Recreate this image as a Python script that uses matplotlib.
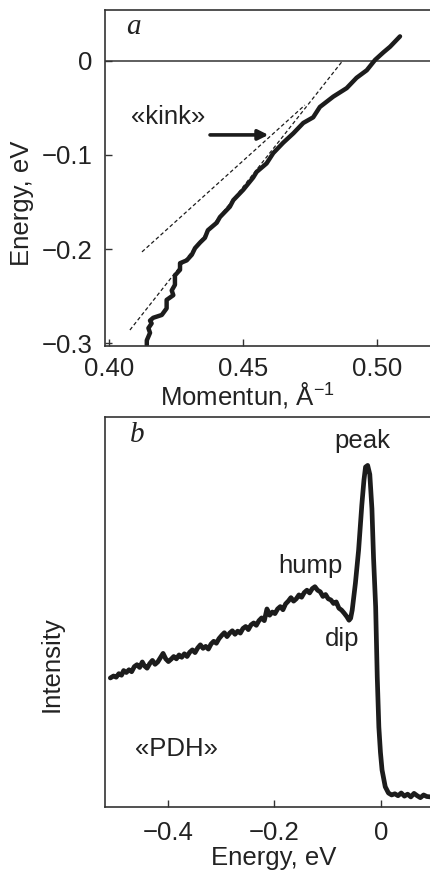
import numpy as np
import matplotlib
matplotlib.use('Agg')
import matplotlib.pyplot as plt

plt.rcParams['font.family'] = ['Liberation Sans', 'DejaVu Sans']
plt.rcParams['mathtext.fontset'] = 'custom'
plt.rcParams['mathtext.rm'] = 'Liberation Sans'
plt.rcParams['mathtext.it'] = 'Liberation Sans:italic'

# panel a: dispersion (momentum in 1/A, energy in eV)
mom_a = [0.4141, 0.4141, 0.4153, 0.4147, 0.4159, 0.4153, 0.4165, 0.4197, 0.4215, 0.4215,
         0.4240, 0.4234, 0.4246, 0.4246, 0.4265, 0.4265, 0.4290, 0.4309, 0.4321, 0.4340,
         0.4358, 0.4369, 0.4402, 0.4414, 0.4451, 0.4464, 0.4501, 0.4538, 0.4551, 0.4588,
         0.4613, 0.4650, 0.4688, 0.4725, 0.4762, 0.4787, 0.4837, 0.4887, 0.4924, 0.4962,
         0.4993, 0.5024, 0.5049, 0.5086]
energy_a = [-0.302, -0.297, -0.289, -0.284, -0.279, -0.276, -0.273, -0.270, -0.263, -0.254,
            -0.249, -0.244, -0.238, -0.228, -0.222, -0.215, -0.212, -0.206, -0.199, -0.193,
            -0.188, -0.180, -0.172, -0.166, -0.155, -0.148, -0.137, -0.124, -0.118, -0.109,
            -0.098, -0.087, -0.077, -0.066, -0.060, -0.049, -0.038, -0.029, -0.018, -0.010,
            0.001, 0.009, 0.015, 0.026]

# dashed guide lines (end points)
steep_mom = [0.4078, 0.4869]
steep_e = [-0.286, -0.001]
shallow_mom = [0.4123, 0.4731]
shallow_e = [-0.203, -0.047]

xticks_a = [0.40, 0.45, 0.50]
xticklabels_a = ['0.40', '0.45', '0.50']
yticks_a = [0, -0.1, -0.2, -0.3]
yticklabels_a = ['0', '\u22120.1', '\u22120.2', '\u22120.3']

# panel b: EDC spectrum (energy in eV, intensity in arb. units)
energy_b = [-0.508, -0.502, -0.497, -0.492, -0.487, -0.483, -0.478, -0.473, -0.468, -0.463,
            -0.458, -0.453, -0.448, -0.444, -0.439, -0.434, -0.429, -0.424, -0.419, -0.414,
            -0.409, -0.404, -0.399, -0.394, -0.389, -0.384, -0.379, -0.374, -0.369, -0.364,
            -0.359, -0.354, -0.349, -0.344, -0.339, -0.334, -0.329, -0.324, -0.319, -0.314,
            -0.309, -0.304, -0.299, -0.294, -0.289, -0.284, -0.279, -0.274, -0.269, -0.264,
            -0.259, -0.254, -0.249, -0.244, -0.239, -0.234, -0.229, -0.224, -0.219, -0.214,
            -0.209, -0.204, -0.199, -0.194, -0.189, -0.184, -0.179, -0.174, -0.169, -0.164,
            -0.159, -0.154, -0.149, -0.144, -0.139, -0.134, -0.129, -0.124, -0.119, -0.114,
            -0.109, -0.104, -0.099, -0.094, -0.089, -0.084, -0.079, -0.074, -0.069, -0.064,
            -0.060, -0.057, -0.054, -0.048, -0.042, -0.036, -0.032, -0.029, -0.025, -0.021,
            -0.017, -0.014, -0.010, -0.007, -0.004, -0.001, 0.002, 0.008, 0.014, 0.020,
            0.026, 0.032, 0.038, 0.044, 0.050, 0.056, 0.062, 0.068, 0.074, 0.080,
            0.086, 0.093]
intensity_b = [0.331, 0.336, 0.333, 0.342, 0.338, 0.350, 0.345, 0.352, 0.347, 0.360,
               0.365, 0.358, 0.372, 0.362, 0.356, 0.368, 0.376, 0.366, 0.372, 0.383,
               0.394, 0.380, 0.373, 0.379, 0.386, 0.380, 0.390, 0.384, 0.393, 0.386,
               0.397, 0.403, 0.396, 0.408, 0.416, 0.407, 0.412, 0.405, 0.418, 0.425,
               0.420, 0.432, 0.440, 0.447, 0.437, 0.446, 0.452, 0.443, 0.451, 0.446,
               0.458, 0.463, 0.455, 0.467, 0.472, 0.466, 0.478, 0.485, 0.478, 0.508,
               0.492, 0.500, 0.496, 0.508, 0.514, 0.506, 0.521, 0.528, 0.537, 0.528,
               0.534, 0.544, 0.538, 0.550, 0.556, 0.549, 0.560, 0.565, 0.556, 0.552,
               0.540, 0.545, 0.534, 0.531, 0.522, 0.526, 0.510, 0.505, 0.497, 0.488,
               0.479, 0.484, 0.505, 0.574, 0.659, 0.774, 0.838, 0.872, 0.876, 0.853,
               0.765, 0.640, 0.513, 0.333, 0.205, 0.140, 0.095, 0.052, 0.036, 0.031,
               0.034, 0.029, 0.036, 0.028, 0.033, 0.026, 0.035, 0.029, 0.024, 0.031,
               0.027, 0.026]

xticks_b = [-0.4, -0.2, 0]
xticklabels_b = ['\u22120.4', '\u22120.2', '0']

ink = '#1c1c1c'
fs = 18.5

fig = plt.figure(figsize=(4.3, 8.72), dpi=100)
ax_a = fig.add_axes([0.2442, 0.6032, 0.7558, 0.3853])
ax_b = fig.add_axes([0.2442, 0.0745, 0.7558, 0.4472])

for ax in (ax_a, ax_b):
    ax.spines['right'].set_visible(False)
    for s in ('left', 'top', 'bottom'):
        ax.spines[s].set_linewidth(1.2)
        ax.spines[s].set_color('#333333')
    ax.tick_params(direction='in', length=5, width=1.0, colors='#333333',
                   labelsize=fs, labelcolor='#222222')

# ---- panel a ----
ax_a.axhline(0, color='#333333', lw=1.1)
ax_a.plot(steep_mom, steep_e, color=ink, lw=0.9, ls=(0, (3, 2)))
ax_a.plot(shallow_mom, shallow_e, color=ink, lw=0.9, ls=(0, (3, 2)))
ax_a.plot(mom_a, energy_a, color=ink, lw=3.2, solid_capstyle='round', solid_joinstyle='round')
ax_a.set_xlim(0.3985, 0.5198)
ax_a.set_ylim(-0.303, 0.054)
ax_a.set_xticks(xticks_a)
ax_a.set_xticklabels(xticklabels_a)
ax_a.set_yticks(yticks_a)
ax_a.set_yticklabels(yticklabels_a)
ax_a.tick_params(axis='x', pad=8)
ax_a.tick_params(axis='y', pad=9)
ax_a.set_xlabel('Momentun, \u00c5$^{-1}$', fontsize=fs, color='#222222', va='center')
ax_a.xaxis.set_label_coords(0.437, -0.146)
ax_a.set_ylabel('Energy, eV', fontsize=fs, color='#222222', va='center')
ax_a.yaxis.set_label_coords(-0.255, 0.426)
ax_a.text(0.086, 0.949, 'a', transform=ax_a.transAxes, fontsize=21, family='Liberation Serif',
          style='italic', ha='center', va='center', color='#222222')
ax_a.text(0.422, -0.0596, '\u00abkink\u00bb', fontsize=fs, ha='center', va='center', color='#222222')
ax_a.annotate('', xy=(0.4595, -0.0787), xytext=(0.4377, -0.0787),
              arrowprops=dict(arrowstyle='-|>,head_length=0.6,head_width=0.3', lw=2.6, color=ink,
                              shrinkA=0, shrinkB=0))

# ---- panel b ----
ax_b.plot(energy_b, intensity_b, color=ink, lw=3.4, solid_capstyle='round', solid_joinstyle='round')
ax_b.set_xlim(-0.518, 0.092)
ax_b.set_ylim(0, 1)
ax_b.set_yticks([])
ax_b.set_xticks(xticks_b)
ax_b.set_xticklabels(xticklabels_b)
ax_b.tick_params(axis='x', pad=10)
ax_b.set_xlabel('Energy, eV', fontsize=fs, color='#222222', va='center')
ax_b.xaxis.set_label_coords(0.52, -0.131)
ax_b.set_ylabel('Intensity', fontsize=fs, color='#222222', va='center')
ax_b.yaxis.set_label_coords(-0.163, 0.367)
ax_b.text(0.098, 0.954, 'b', transform=ax_b.transAxes, fontsize=21, family='Liberation Serif',
          style='italic', ha='center', va='center', color='#222222')
ax_b.text(-0.035, 0.938, 'peak', fontsize=fs, ha='center', va='center', color='#222222')
ax_b.text(-0.132, 0.618, 'hump', fontsize=fs, ha='center', va='center', color='#222222')
ax_b.text(-0.072, 0.431, 'dip', fontsize=fs, ha='center', va='center', color='#222222')
ax_b.text(-0.384, 0.149, '\u00abPDH\u00bb', fontsize=fs, ha='center', va='center', color='#222222')

fig.savefig('out.png', dpi=100)
